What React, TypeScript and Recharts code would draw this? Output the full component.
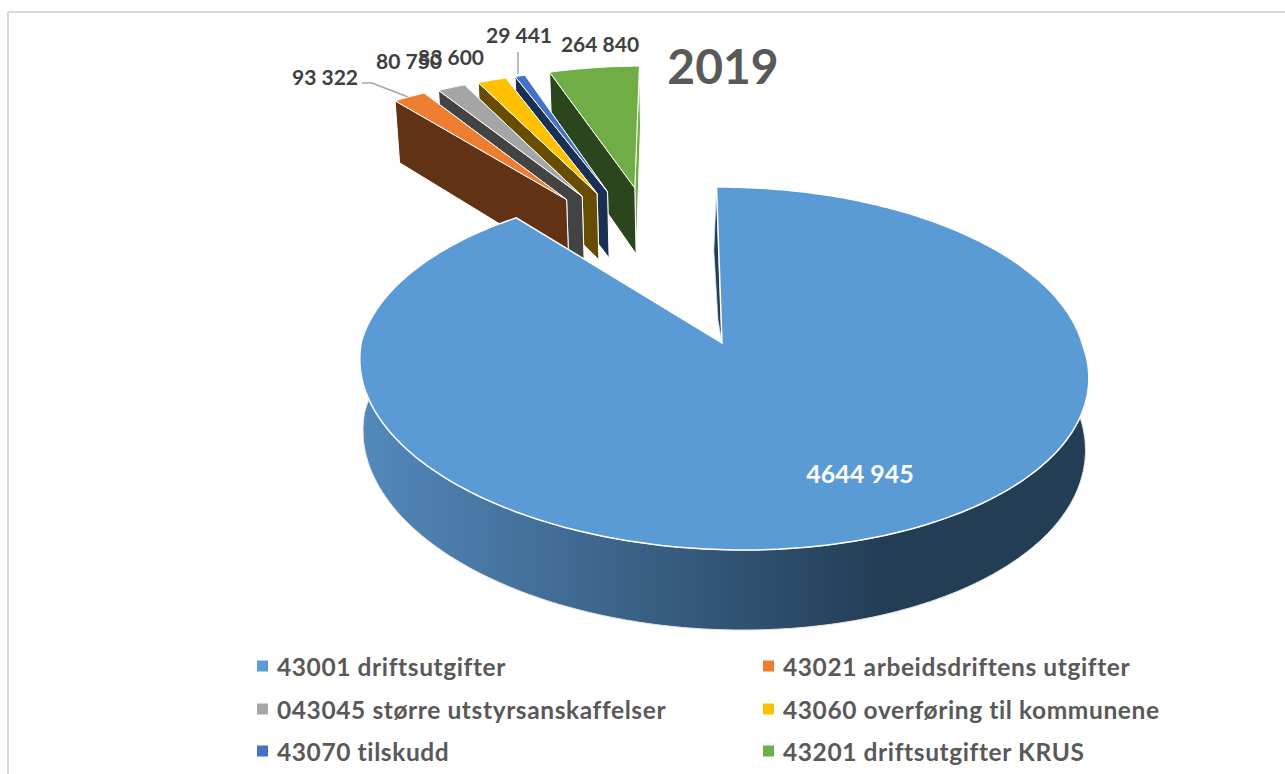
import React from 'react';
import { PieChart, Pie } from 'recharts';

const year = '2019';
const labels = [
  '43001 driftsutgifter',
  '43021 arbeidsdriftens utgifter',
  '043045 større utstyrsanskaffelser',
  '43060 overføring til kommunene',
  '43070 tilskudd',
  '43201 driftsutgifter KRUS',
];
const values = [4644945, 93322, 80750, 83600, 29441, 264840];

const faceColors = ['#5B9BD5', '#ED7D31', '#A5A5A5', '#FFC000', '#4472C4', '#70AD47'];
const wallColors = ['#233D55', '#613214', '#434343', '#664D00', '#1A2F54', '#2B461C'];
const explode = [0, 1.03, 1.03, 1.03, 1.03, 1.03];

// label centres, in the same order as the values
const labelX = [860, 325, 409, 451, 519, 600];
const labelY = [473, 76, 60, 56, 34, 43];

const legendX = [257, 763];
const legendY = [666, 709, 751];

// the slices are drawn back to front, so the big one goes last and covers the others
const pieData = labels.map((name, i) => ({ name, value: values[i], idx: i })).reverse();

// perspective of the tilted pie
const TILT = 0.1405;
const RY = 177.9;

function formatValue(v: number) {
  const rest = String(v % 1000).padStart(3, '0');
  return `${Math.floor(v / 1000)} ${rest}`;
}

function pathOf(pts: number[][]) {
  return pts.map((p, i) => `${i ? 'L' : 'M'}${p[0].toFixed(1)} ${p[1].toFixed(1)}`).join('') + 'Z';
}

function Slice(props: any) {
  const { cx, cy, outerRadius, startAngle, endAngle, payload } = props;
  const idx = payload.idx;
  const from = 90 - startAngle;
  const to = 90 - endAngle;
  const lo = Math.min(from, to);
  const hi = Math.max(from, to);

  // exploded slices all move up and a bit left, less spread than their own bisector
  const mid = (lo + hi) / 2;
  const dir = ((-10.5 + 0.487 * mid) * Math.PI) / 180;
  const ou = explode[idx] * Math.sin(dir);
  const ov = explode[idx] * Math.cos(dir);

  // the big slice has a wider floor than the small ones
  const drop = idx === 0 ? 0.009 : 0.017;
  const depth = idx === 0 ? 71.4 : 73.7;

  const project = (r: number, deg: number, z: number) => {
    const a = (deg * Math.PI) / 180;
    const u = ou + r * Math.sin(a);
    const v = ov + r * Math.cos(a);
    const w = 1 + TILT * v + drop * z;
    const x = cx + (outerRadius * u) / w;
    const y = cy + (-RY * v + depth * z) / w;
    if (idx !== 0) return [x, y];
    // the big slice leans a little: its near edge sits right of the centre
    return [cx + (x - cx) * 0.996 + (16 * Math.max(0, -v)) / w, y + 1.5 * u];
  };

  const arc = (a: number, b: number, z: number) => {
    const n = Math.max(2, Math.ceil(Math.abs(b - a)));
    return Array.from({ length: n + 1 }, (_, i) => project(1, a + ((b - a) * i) / n, z));
  };

  const top = [project(0, 0, 0), ...arc(lo, hi, 0)];

  if (idx === 0) {
    // lo is the start of the slice, at the top of the pie; the dark sliver runs down to the centre
    const cut = [
      project(0, 0, 0),
      project(1, lo, 0),
      project(1, lo - 0.5, 1),
      project(0.33, lo - 2, 0),
      project(0.13, lo - 4, 0),
    ];
    const rim = [...arc(-285, -75, 0), ...arc(-75, -285, 1)];
    return (
      <g>
        <path d={pathOf(cut)} fill={wallColors[0]} stroke="#DDE3EA" strokeWidth={0.8} />
        <path d={pathOf(rim)} fill="url(#rimShade)" stroke="#E4E4E4" strokeWidth={1} />
        <path d={pathOf(top)} fill={faceColors[0]} stroke="#fff" strokeWidth={1.5} />
      </g>
    );
  }

  const leftWall = [project(0, 0, 0), project(1, lo, 0), project(1, lo, 1), project(0, 0, 1)];
  const rightWall = [project(0, 0, 0), project(1, hi, 0), project(1, hi, 1), project(0, 0, 1)];
  return (
    <g>
      <path d={pathOf(rightWall)} fill={faceColors[idx]} stroke="#fff" strokeWidth={1} />
      <path d={pathOf(leftWall)} fill={wallColors[idx]} stroke="#fff" strokeWidth={1} />
      <path d={pathOf(top)} fill={faceColors[idx]} stroke="#fff" strokeWidth={1} />
    </g>
  );
}

function SliceLabel(props: any) {
  const idx = values.length - 1 - props.index;
  return (
    <text
      x={labelX[idx]}
      y={labelY[idx]}
      textAnchor="middle"
      dominantBaseline="central"
      fontFamily="Lato"
      fontWeight={700}
      fontSize={idx === 0 ? 25 : 21}
      fill={idx === 0 ? '#ffffff' : '#404040'}
    >
      {formatValue(values[idx])}
    </text>
  );
}

export default function App() {
  return (
    <div style={{ position: 'fixed', left: 0, top: 0, width: 1285, height: 774, overflow: 'hidden', background: '#fff' }}>
      <PieChart width={1285} height={774} margin={{ top: 0, right: 0, bottom: 0, left: 0 }}>
        <defs>
          <linearGradient id="rimShade" gradientUnits="userSpaceOnUse" x1={360} y1={0} x2={1088} y2={0}>
            <stop offset="0%" stopColor="#5389BC" />
            <stop offset="72%" stopColor="#233D55" />
            <stop offset="100%" stopColor="#233D55" />
          </linearGradient>
        </defs>
        <line x1={8} y1={12} x2={1285} y2={12} stroke="#D9D9D9" strokeWidth={2} />
        <line x1={8} y1={12} x2={8} y2={774} stroke="#D9D9D9" strokeWidth={2} />
        <Pie
          data={pieData}
          dataKey="value"
          nameKey="name"
          cx={722}
          cy={343}
          outerRadius={362}
          startAngle={91}
          endAngle={451}
          stroke="none"
          shape={Slice}
          label={SliceLabel}
          labelLine={false}
          isAnimationActive={false}
        />
        <polyline points="362,83 372,83 408,97" fill="none" stroke="#A6A6A6" strokeWidth={1.5} />
        <line x1={518} y1={52} x2={518} y2={74} stroke="#A6A6A6" strokeWidth={1.5} />
        <text x={723} y={65} textAnchor="middle" dominantBaseline="central" fontFamily="Lato" fontWeight={700} fontSize={48} fill="#595959">
          {year}
        </text>
        {labels.map((name, i) => {
          const x = legendX[i % 2];
          const y = legendY[Math.floor(i / 2)];
          return (
            <g key={name}>
              <rect x={x} y={y - 5.5} width={11} height={11} fill={faceColors[i]} />
              <text x={x + 20} y={y} dominantBaseline="central" fontFamily="Lato" fontWeight={700} fontSize={24.5} letterSpacing={0.6} fill="#595959">
                {name}
              </text>
            </g>
          );
        })}
      </PieChart>
    </div>
  );
}
